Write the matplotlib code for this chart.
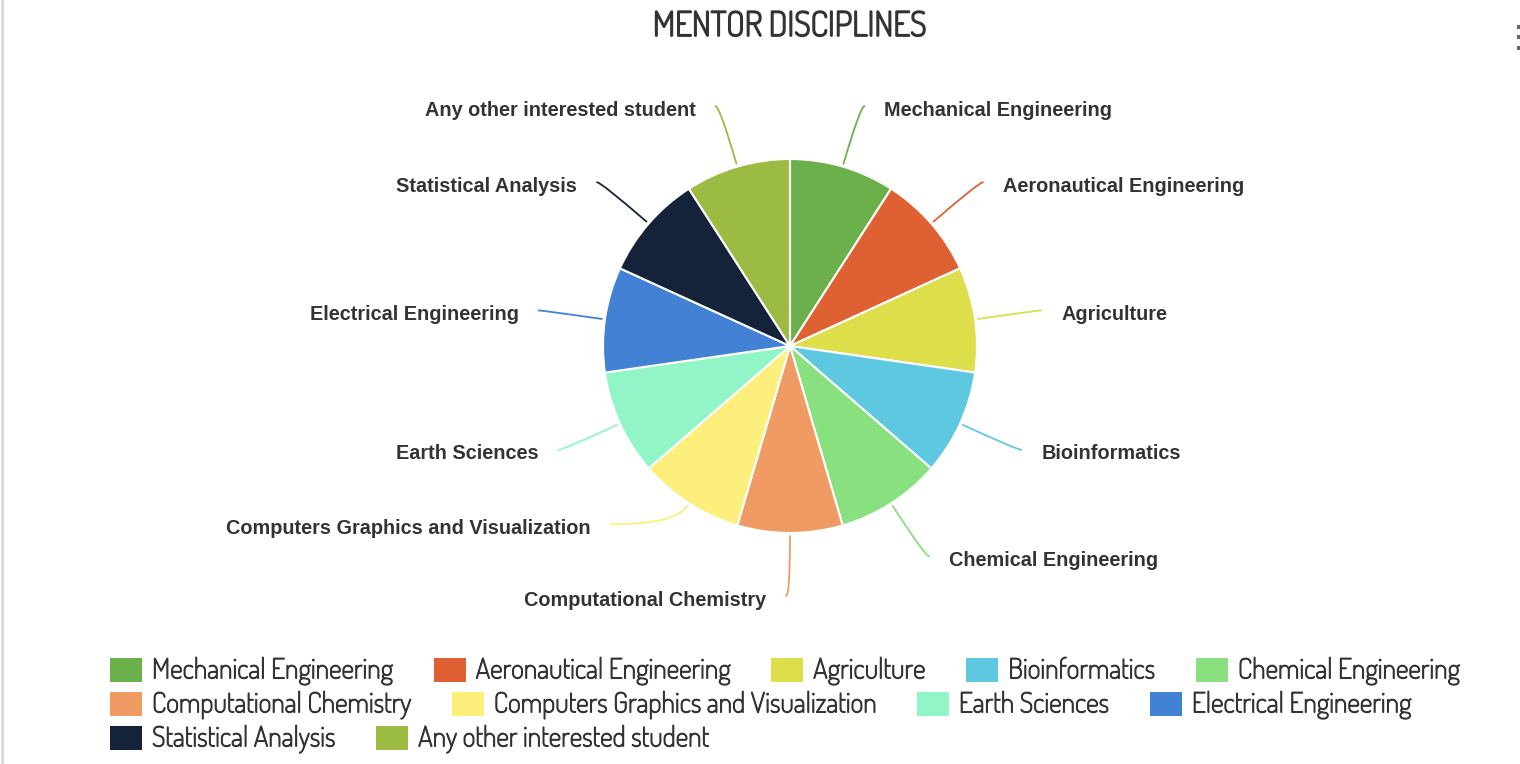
import numpy as np
import matplotlib
matplotlib.use("Agg")
import matplotlib.pyplot as plt
import matplotlib.patheffects as pe
from matplotlib.patches import Rectangle
from matplotlib import font_manager
from matplotlib.font_manager import FontProperties

# --- data -------------------------------------------------------------
disciplines = ["Mechanical Engineering", "Aeronautical Engineering", "Agriculture",
               "Bioinformatics", "Chemical Engineering", "Computational Chemistry",
               "Computers Graphics and Visualization", "Earth Sciences",
               "Electrical Engineering", "Statistical Analysis",
               "Any other interested student"]
counts = [1, 1, 1, 1, 1, 1, 1, 1, 1, 1, 1]
colors = ["#6BB04A", "#DF6133", "#DDDF4A", "#5EC8E0", "#88E07E", "#F19B64",
          "#FCEF7C", "#91F5C8", "#4381D5", "#14233A", "#9BBB43"]
title = "MENTOR DISCIPLINES"


# --- fonts: look for something narrow like Dosis -----------------------
def wt(f):
    try:
        return int(f.weight)
    except (TypeError, ValueError):
        return 400


def narrow_font(bold):
    fl = font_manager.fontManager.ttflist
    want = 700 if bold else 500
    for fam in ["Dosis", "Roboto Condensed", "Open Sans Condensed",
                "Liberation Sans Narrow", "Arial Narrow"]:
        hits = [f for f in fl if f.name == fam and f.style == "normal"]
        if hits:
            hits.sort(key=lambda f: abs(wt(f) - want))
            return FontProperties(fname=hits[0].fname), wt(hits[0])
    for fam in ["Roboto", "Open Sans", "Noto Sans", "Inter", "DejaVu Sans"]:
        hits = [f for f in fl if f.name == fam and "condensed" in str(f.stretch)
                and "semi" not in str(f.stretch) and f.style == "normal"]
        if hits:
            hits.sort(key=lambda f: abs(wt(f) - want))
            return FontProperties(fname=hits[0].fname), wt(hits[0])
    return FontProperties(family="DejaVu Sans", weight="bold" if bold else "normal"), want


leg_fp, leg_w = narrow_font(False)
ttl_fp, ttl_w = narrow_font(True)
TXT = "#333333"


def thicken(w_have, w_want, k):
    # fake a heavier weight with a thin outline when only a light face exists
    extra = max(w_want - w_have, 0) / 100.0 * k
    return [pe.withStroke(linewidth=extra, foreground=TXT)] if extra > 0 else []


W, H = 1520, 764
fig = plt.figure(figsize=(W / 100, H / 100), dpi=100)
ax = fig.add_axes([0, 0, 1, 1])

cx, cy, r = 790, H - 346, 187
ax.pie(counts, colors=colors, startangle=90, counterclock=False, radius=r,
       center=(cx, cy), wedgeprops=dict(edgecolor="white", linewidth=1.5))
ax.set_xlim(0, W)
ax.set_ylim(0, H)
ax.set_aspect("auto")
ax.axis("off")

# data labels with curved connectors (highcharts style)
R = 250
gap = 24
nudge = {"Computers Graphics and Visualization": -32}   # anti-overlap shift (px, up)
total = sum(counts)
cum = 0
for name, v, c in zip(disciplines, counts, colors):
    theta = np.deg2rad((cum + v / 2) / total * 360)   # clockwise from top
    cum += v
    dy = R * np.cos(theta) - nudge.get(name, 0)
    side = 1 if np.sin(theta) > 1e-6 else -1
    ex = cx + side * np.sqrt(max(R ** 2 - dy ** 2, 0))
    ey = cy + dy
    sx = cx + (r + 3) * np.sin(theta)
    sy = cy + (r + 3) * np.cos(theta)
    radial = np.degrees(np.arctan2(np.cos(theta), np.sin(theta)))
    ax.annotate("", xy=(sx, sy), xytext=(ex + side * 4, ey),
                arrowprops=dict(arrowstyle="-", color=c, lw=1.3, shrinkA=0, shrinkB=0,
                                connectionstyle=f"angle3,angleA=0,angleB={radial:.2f}"))
    ax.text(ex + side * gap, ey - 4, name, ha="left" if side > 0 else "right",
            va="center", fontsize=14.3, fontweight="bold", color=TXT,
            family="Liberation Sans")

fig.canvas.draw()
rend = fig.canvas.get_renderer()


def fit(txt, target):
    # scale the font so the text spans about the reference width
    txt.set_fontsize(20)
    w = txt.get_window_extent(rend).width
    txt.set_fontsize(20 * target / w)


t = fig.text(790 / W, 1 - 27 / H, title, ha="center", va="center",
             color=TXT, fontproperties=ttl_fp)
fit(t, 272)
t.set_path_effects(thicken(ttl_w, 700, 0.26))

# flowing legend
probe = ax.text(0, 0, disciplines[0], fontproperties=leg_fp)
fit(probe, 241)
leg_size = probe.get_fontsize()
probe.remove()
leg_fx = thicken(leg_w, 500, 0.25)

x0, row = 110, 0
rows_y = [670, 704, 738]
for name, c in zip(disciplines, colors):
    t = ax.text(0, 0, name, color=TXT, fontproperties=leg_fp, va="center",
                path_effects=leg_fx)
    t.set_fontsize(leg_size)
    tw = t.get_window_extent(rend).width
    if x0 + 42 + tw > 1490:
        x0, row = 110, row + 1
    y = H - rows_y[row]
    t.set_position((x0 + 42, y - 1))
    ax.add_patch(Rectangle((x0, y - 12), 32, 24, color=c, lw=0))
    x0 = x0 + 42 + tw + 41

# chrome: left border and menu dots
ax.plot([1.5, 1.5], [0, H], color="#d9d9d9", lw=2)
for yy in (27, 37, 48):
    ax.add_patch(Rectangle((1517, H - yy - 2), 3, 4, color="#666666", lw=0))

fig.savefig("out.png", dpi=100)
